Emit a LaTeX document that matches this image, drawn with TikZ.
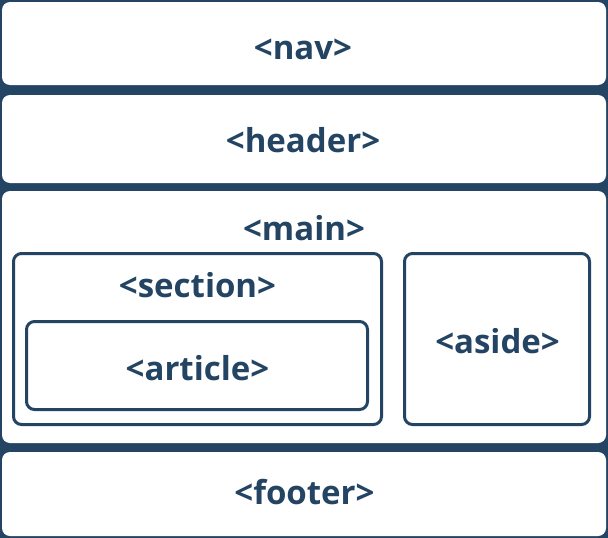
\documentclass[tikz,border=0pt]{standalone}
\usepackage{fontspec}
\setmainfont{Open Sans}
\definecolor{dk}{HTML}{244463}
\begin{document}
\begin{tikzpicture}[x=1pt,y=-1pt,
  outer/.style={fill=white,rounded corners=8pt},
  inner/.style={draw=dk,line width=3pt,fill=white,rounded corners=8pt},
  lbl/.style={anchor=base,text=dk,font=\fontsize{33}{40}\selectfont\bfseries,inner sep=0pt}]
\fill[dk] (0,0) rectangle (608,538);
\useasboundingbox (0,0) rectangle (608,538);
\path[outer] (2,2) rectangle (606,85) coordinate (navbr);
\path[outer] (2,95) rectangle (606,183);
\path[outer] (2,191) rectangle (606,443);
\path[outer] (2,452) rectangle (606,536);
\draw[inner] (13.5,253.5) rectangle (381.5,424.5);
\draw[inner] (26.5,321.5) rectangle (367.5,409.5);
\draw[inner] (404.5,253.5) rectangle (589.5,424.5);
\node[lbl] (nav) at (303,59) {<nav>};
\node[lbl] (header) at (303,152) {<header>};
\node[lbl] (main) at (304,240) {<main>};
\node[lbl] (section) at (197.5,297) {<section>};
\node[lbl] (article) at (197.5,380) {<article>};
\node[lbl] (aside) at (497.5,353) {<aside>};
\node[lbl] (footer) at (304.5,504) {<footer>};
\end{tikzpicture}
\end{document}
